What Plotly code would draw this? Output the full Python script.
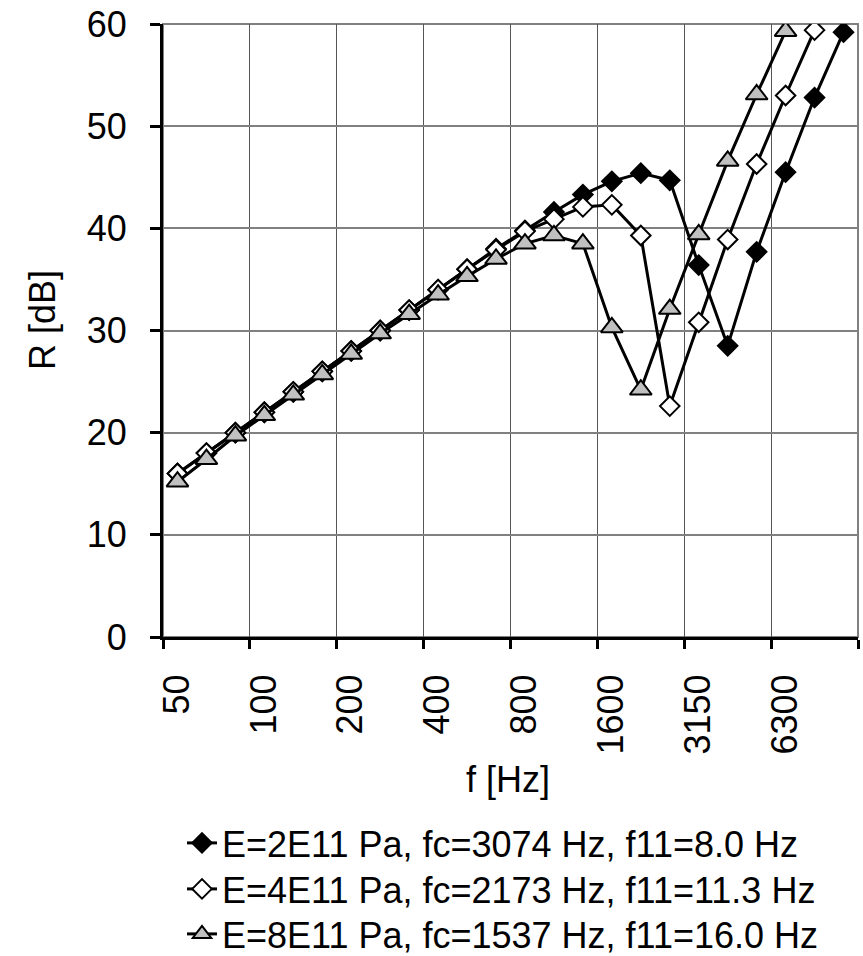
import plotly.graph_objects as go

# One-third octave band centre frequencies (Hz)
bands = ["50", "63", "80", "100", "125", "160", "200", "250", "315", "400",
         "500", "630", "800", "1000", "1250", "1600", "2000", "2500", "3150",
         "4000", "5000", "6300", "8000", "10000"]

# Sound reduction index R [dB] per band for three Young's moduli
r_e2 = [16.0, 18.0, 20.0, 22.0, 24.0, 26.0, 28.0, 30.0, 32.0, 34.0, 36.0, 38.0,
        39.8, 41.6, 43.3, 44.6, 45.4, 44.7, 36.4, 28.5, 37.7, 45.5, 52.8, 59.2]
r_e4 = [16.0, 18.0, 20.0, 22.0, 24.0, 26.0, 28.0, 30.0, 32.0, 34.0, 36.0, 37.9,
        39.7, 40.9, 42.1, 42.3, 39.3, 22.6, 30.8, 38.9, 46.3, 53.0, 59.4, None]
r_e8 = [15.2, 17.4, 19.7, 21.7, 23.7, 25.7, 27.7, 29.7, 31.6, 33.5, 35.3, 37.0,
        38.5, 39.3, 38.5, 30.3, 24.2, 32.1, 39.4, 46.6, 53.1, 59.3, None, None]

names = ["E=2E11 Pa, fc=3074 Hz, f11=8.0 Hz",
         "E=4E11 Pa, fc=2173 Hz, f11=11.3 Hz",
         "E=8E11 Pa, fc=1537 Hz, f11=16.0 Hz"]

# Labels every third band, grid/ticks at the band boundaries between groups
label_step = 3

FONT = "Liberation Sans, Arial, sans-serif"
FS = 36
idx = list(range(len(bands)))

styles = [
    dict(symbol="diamond", color="black", size=15),
    dict(symbol="diamond", color="white", size=15),
    dict(symbol="triangle-up", color="#c0c0c0", size=19),
]
series = [r_e2, r_e4, r_e8]
legend_ids = ["legend", "legend2", "legend3"]

fig = go.Figure()
for vals, name, st, lg in zip(series, names, styles, legend_ids):
    fig.add_trace(go.Scatter(
        x=idx, y=vals, name=name, mode="lines+markers",
        line=dict(color="black", width=3),
        marker=dict(symbol=st["symbol"], size=st["size"], color=st["color"],
                    line=dict(color="black", width=2)),
        legend=lg, connectgaps=False,
    ))

n = len(bands)
boundaries = [i - 0.5 for i in range(0, n + 1, label_step)]
# each label sits in the middle of the first band after its boundary
tick_txt = [bands[i] if i < n else "" for i in range(0, n + 1, label_step)]

H = 956
top, bottom = 24, 637
left, right = 163, 858
plot_h = bottom - top
band_px = (right - left) / n


def py(pixel_y):
    return (bottom - pixel_y) / plot_h


def px(pixel_x):
    return (pixel_x - left) / (right - left)


legend_common = dict(
    orientation="v", xanchor="left", yanchor="middle",
    font=dict(family=FONT, size=FS, color="black"),
    bgcolor="rgba(0,0,0,0)", borderwidth=0,
)

fig.update_layout(
    width=863, height=H,
    margin=dict(l=left, r=863 - right, t=top, b=H - bottom, autoexpand=False),
    paper_bgcolor="white", plot_bgcolor="white",
    font=dict(family=FONT, size=FS, color="black"),
    showlegend=True,
    legend=dict(x=px(182), y=py(843), **legend_common),
    legend2=dict(x=px(182), y=py(889), **legend_common),
    legend3=dict(x=px(182), y=py(934), **legend_common),
    xaxis=dict(
        range=[-0.5, n - 0.5], tickmode="array", tickvals=boundaries,
        ticktext=tick_txt, tickangle=-90, ticklabelshift=round(band_px / 2),
        ticklabelstandoff=11,
        ticks="outside", ticklen=9, tickwidth=3, tickcolor="black",
        showgrid=True, gridcolor="#555555", gridwidth=1,
        showline=True, linecolor="black", linewidth=3, zeroline=False,
        tickfont=dict(family=FONT, size=FS, color="black"),
    ),
    yaxis=dict(
        range=[0, 60], tickmode="array", tickvals=list(range(0, 61, 10)),
        ticks="outside", ticklen=10, tickwidth=3, tickcolor="black",
        ticklabelstandoff=16,
        showgrid=True, gridcolor="#808080", gridwidth=1.5,
        showline=True, linecolor="black", linewidth=3, zeroline=False,
        tickfont=dict(family=FONT, size=FS, color="black"),
    ),
    shapes=[dict(type="rect", xref="paper", yref="paper", x0=0, x1=1,
                 y0=0, y1=1, line=dict(color="#808080", width=2),
                 layer="below")],
    annotations=[
        dict(text="f [Hz]", xref="paper", yref="paper", x=px(508), y=py(780),
             xanchor="center", yanchor="middle", showarrow=False,
             font=dict(family=FONT, size=FS, color="black")),
        dict(text="R [dB]", xref="paper", yref="paper", x=px(42), y=py(320),
             xanchor="center", yanchor="middle", showarrow=False,
             textangle=-90, font=dict(family=FONT, size=FS, color="black")),
    ],
)

fig.write_html("out.html")
